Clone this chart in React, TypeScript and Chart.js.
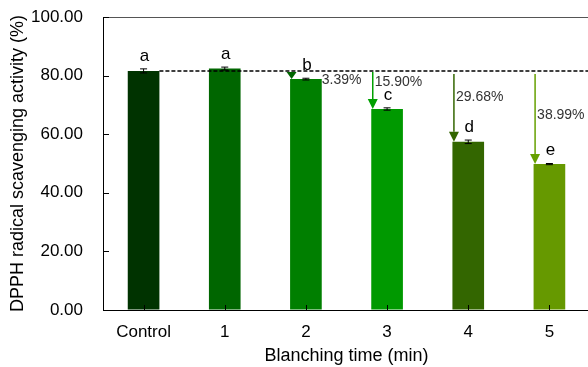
import React, { useEffect, useRef } from "react";
import { Chart, registerables } from "chart.js";

Chart.register(...registerables);

const categories = ["Control", "1", "2", "3", "4", "5"];
const values = [81.6, 82.4, 78.8, 68.6, 57.4, 49.8];
const errors = [0.7, 0.5, 0.3, 0.4, 0.6, 0.2];
const letters = ["a", "a", "b", "c", "d", "e"];
const reductions = ["", "", "3.39%", "15.90%", "29.68%", "38.99%"];
const reductionLabelY = [0, 0, 78.5, 77.8, 72.7, 66.5];
const controlLevel = 81.6;
const yTicks = [0, 20, 40, 60, 80, 100];

const barColors = ["#003300", "#006600", "#007f00", "#009900", "#336600", "#669900"];
const arrowColors = ["", "", "#006600", "#00a000", "#336600", "#66a000"];

const overlay = {
  id: "overlay",
  afterDatasetsDraw(chart: any) {
    const ctx = chart.ctx;
    const ca = chart.chartArea;
    const ys = chart.scales.y;
    const meta = chart.getDatasetMeta(0);
    ctx.save();

    // top border
    ctx.strokeStyle = "#555555";
    ctx.lineWidth = 1;
    ctx.beginPath();
    ctx.moveTo(ca.left, Math.round(ca.top) + 0.5);
    ctx.lineTo(ca.right + 5, Math.round(ca.top) + 0.5);
    ctx.stroke();

    // inward ticks
    ctx.strokeStyle = "#000";
    ctx.lineWidth = 1;
    yTicks.forEach((t) => {
      const y = Math.round(ys.getPixelForValue(t)) + 0.5;
      ctx.beginPath();
      ctx.moveTo(ca.left, y);
      ctx.lineTo(ca.left + 6, y);
      ctx.stroke();
    });
    meta.data.forEach((bar: any) => {
      const x = Math.round(bar.x) + 0.5;
      ctx.beginPath();
      ctx.moveTo(x, ca.bottom);
      ctx.lineTo(x, ca.bottom - 5);
      ctx.stroke();
    });

    // dashed control line
    const yc = ys.getPixelForValue(controlLevel);
    const b0: any = meta.data[0];
    ctx.setLineDash([4, 2]);
    ctx.lineWidth = 1.5;
    ctx.strokeStyle = "#000";
    ctx.beginPath();
    ctx.moveTo(b0.x + b0.width / 2, yc);
    ctx.lineTo(ca.right + 5, yc);
    ctx.stroke();
    ctx.setLineDash([]);

    // error bars + letters
    meta.data.forEach((bar: any, i: number) => {
      const top = ys.getPixelForValue(values[i] + errors[i]);
      const bot = ys.getPixelForValue(values[i] - errors[i]);
      ctx.strokeStyle = "#000";
      ctx.lineWidth = 1;
      ctx.beginPath();
      ctx.moveTo(bar.x, top);
      ctx.lineTo(bar.x, bot);
      ctx.moveTo(bar.x - 3.5, top);
      ctx.lineTo(bar.x + 3.5, top);
      ctx.moveTo(bar.x - 3.5, bot);
      ctx.lineTo(bar.x + 3.5, bot);
      ctx.stroke();

      ctx.fillStyle = "#000";
      ctx.font = "17px 'Liberation Sans', Arial, sans-serif";
      ctx.textAlign = "center";
      ctx.textBaseline = "middle";
      ctx.fillText(letters[i], bar.x + 1, top - 13);
    });

    // arrows + reduction labels
    meta.data.forEach((bar: any, i: number) => {
      if (!reductions[i]) return;
      const x = bar.x - bar.width / 2 + 1.5;
      const yStart = yc + (i >= 4 ? 3 : 1);
      const yEnd = bar.y;
      const headLen = Math.min(10, yEnd - yStart);
      ctx.strokeStyle = arrowColors[i];
      ctx.fillStyle = arrowColors[i];
      ctx.lineWidth = 1.5;
      ctx.beginPath();
      ctx.moveTo(x, yStart);
      ctx.lineTo(x, yEnd - headLen);
      ctx.stroke();
      ctx.beginPath();
      ctx.moveTo(x - 5, yEnd - headLen);
      ctx.lineTo(x + 5, yEnd - headLen);
      ctx.lineTo(x, yEnd);
      ctx.closePath();
      ctx.fill();

      ctx.fillStyle = "#333333";
      ctx.font = "14px 'Liberation Sans', Arial, sans-serif";
      ctx.textAlign = "left";
      ctx.textBaseline = "middle";
      const lx = i === 2 ? bar.x + bar.width / 2 : x + 2;
      ctx.fillText(reductions[i], lx, ys.getPixelForValue(reductionLabelY[i]));
    });

    ctx.restore();
  },
};

export default function App() {
  const ref = useRef<HTMLCanvasElement>(null);
  useEffect(() => {
    if (!ref.current) return;
    const chart = new Chart(ref.current, {
      type: "bar",
      data: {
        labels: categories,
        datasets: [
          {
            data: values,
            backgroundColor: barColors,
            borderWidth: 0,
            barPercentage: 0.39,
            categoryPercentage: 1,
          },
        ],
      },
      options: {
        responsive: false,
        animation: false,
        layout: { padding: { top: 17, right: 2, left: 0, bottom: 0 } },
        plugins: { legend: { display: false }, tooltip: { enabled: false } },
        scales: {
          x: {
            type: "category",
            offset: true,
            grid: { display: false, drawTicks: false },
            border: { display: true, color: "#000", width: 1 },
            ticks: {
              color: "#000",
              font: { family: "'Liberation Sans', Arial, sans-serif", size: 17 },
              padding: 12,
            },
            title: {
              display: true,
              text: "Blanching time (min)",
              color: "#000",
              font: { family: "'Liberation Sans', Arial, sans-serif", size: 18 },
              padding: { top: 0, bottom: 0 },
            },
            afterFit: (s: any) => {
              s.height = 57;
            },
          },
          y: {
            min: 0,
            max: 100,
            grid: {
              display: true,
              drawOnChartArea: false,
              drawTicks: true,
              tickLength: 20,
              color: "rgba(0,0,0,0)",
            },
            border: { display: true, color: "#000", width: 1 },
            ticks: {
              stepSize: 20,
              color: "#000",
              padding: 0,
              font: { family: "'Liberation Sans', Arial, sans-serif", size: 17 },
              callback: (v: any) => Number(v).toFixed(2),
            },
            title: {
              display: true,
              text: "DPPH radical scavenging activity (%)",
              color: "#000",
              font: { family: "'Liberation Sans', Arial, sans-serif", size: 18 },
              padding: { top: 7, bottom: 0 },
            },
            afterFit: (s: any) => {
              s.width = 103;
            },
          },
        },
      },
      plugins: [overlay],
    });
    return () => chart.destroy();
  }, []);
  return (
    <div
      style={{
        position: "absolute",
        left: 0,
        top: 0,
        width: 588,
        height: 367,
        overflow: "hidden",
        background: "#fff",
      }}
    >
      <canvas ref={ref} width={592} height={367} style={{ width: 592, height: 367 }} />
    </div>
  );
}
